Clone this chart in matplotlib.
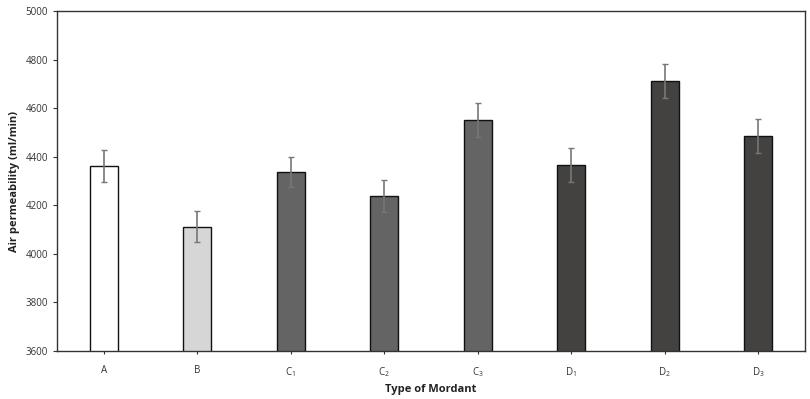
import matplotlib
matplotlib.use('Agg')
import matplotlib.pyplot as plt
import numpy as np

# data
labels = ['A', 'B', r'C$_\mathregular{1}$', r'C$_\mathregular{2}$', r'C$_\mathregular{3}$',
          r'D$_\mathregular{1}$', r'D$_\mathregular{2}$', r'D$_\mathregular{3}$']
values = [4360, 4112, 4338, 4239, 4551, 4366, 4713, 4486]
errors = [66, 64, 62, 65, 69, 70, 70, 70]
colors = ['#ffffff', '#d6d6d6', '#646464', '#646464', '#646464', '#444240', '#444240', '#444240']

plt.rcParams['font.family'] = ['Open Sans', 'DejaVu Sans']
plt.rcParams['mathtext.fontset'] = 'custom'
plt.rcParams['mathtext.rm'] = 'Open Sans'

fig = plt.figure(figsize=(8.1, 3.99), dpi=100)
ax = fig.add_axes([57 / 810, 1 - 351 / 399, 748 / 810, 340 / 399])

x = np.arange(len(values))
ax.bar(x, values, width=0.3, color=colors, edgecolor='#111111', linewidth=1.0, zorder=2)
ax.errorbar(x, values, yerr=errors, fmt='none', ecolor='#777777', elinewidth=1.2,
            capsize=2.5, capthick=1.0, zorder=3)

ax.set_xlim(-0.5, 7.5)
ax.set_ylim(3600, 5000)
ax.set_yticks(np.arange(3600, 5001, 200))
ax.set_xticks(x)
ax.set_xticklabels(labels)
ax.tick_params(axis='both', labelsize=7, colors='#333333', length=3, width=0.8)
ax.tick_params(axis='x', length=2, pad=8)
for s in ax.spines.values():
    s.set_color('#333333')
    s.set_linewidth(1.0)

ax.set_ylabel('Air permeability (ml/min)', fontsize=8, fontweight='bold', color='#222222')
ax.set_xlabel('Type of Mordant', fontsize=8, fontweight='bold', color='#222222', labelpad=4)

fig.savefig('out.png', dpi=100)
